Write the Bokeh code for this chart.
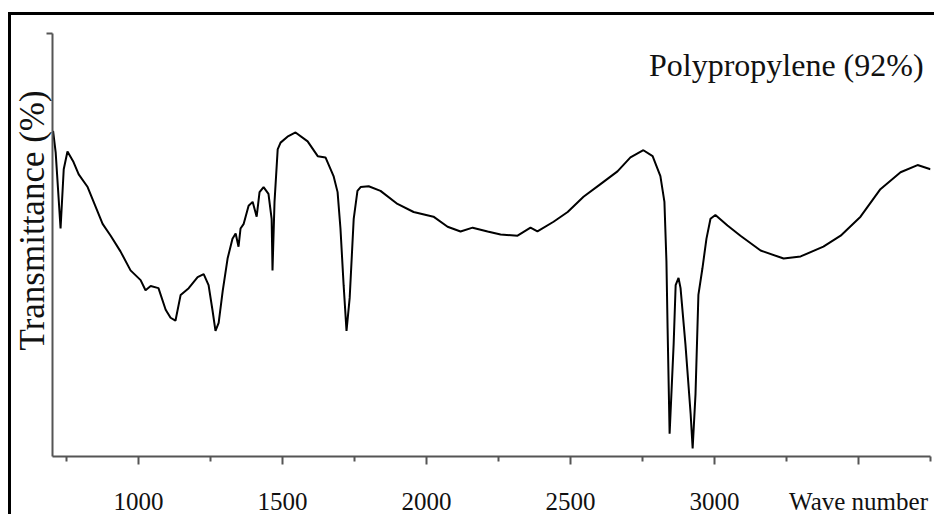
from bokeh.plotting import figure
from bokeh.models import Range1d, FixedTicker, Label, Title
from bokeh.embed import file_html
from bokeh.resources import INLINE

# FTIR spectrum
wavenumber = [703, 712, 729, 740, 753, 774, 792, 823, 875, 903, 937, 972, 1007, 1024,
              1042, 1069, 1094, 1111, 1128, 1146, 1174, 1205, 1226, 1243, 1257, 1267,
              1278, 1292, 1309, 1326, 1337, 1347, 1354, 1365, 1382, 1396, 1410, 1420,
              1434, 1451, 1462, 1465, 1472, 1483, 1493, 1517, 1545, 1587, 1622, 1649,
              1677, 1691, 1701, 1712, 1722, 1733, 1747, 1760, 1771, 1799, 1840, 1899,
              1955, 2024, 2073, 2118, 2160, 2212, 2257, 2316, 2361, 2385, 2441, 2490,
              2545, 2604, 2663, 2708, 2753, 2785, 2812, 2826, 2833, 2837, 2844, 2858,
              2865, 2875, 2882, 2899, 2917, 2924, 2934, 2944, 2958, 2972, 2986, 3003,
              3045, 3090, 3160, 3240, 3299, 3378, 3438, 3507, 3576, 3646, 3705, 3750]
transmittance = [77.0, 71.9, 53.9, 67.9, 72.1, 69.6, 66.7, 63.7, 55.0, 52.2, 48.5, 44.0,
                 41.7, 39.3, 40.3, 39.8, 34.7, 32.8, 32.1, 38.2, 39.8, 42.4, 43.1, 40.5,
                 34.4, 29.7, 31.6, 39.1, 46.8, 51.5, 52.7, 49.6, 53.9, 55.0, 59.3, 60.2,
                 56.7, 62.5, 63.7, 62.1, 56.2, 44.0, 60.2, 72.6, 74.2, 75.6, 76.6, 74.5,
                 71.0, 70.7, 66.3, 62.5, 53.9, 40.5, 29.7, 37.5, 56.2, 62.8, 63.7, 63.9,
                 62.8, 59.7, 57.8, 56.7, 54.3, 53.2, 54.1, 53.2, 52.5, 52.2, 54.1, 53.2,
                 55.5, 57.8, 61.4, 64.4, 67.4, 70.7, 72.4, 71.0, 66.3, 60.2, 46.1, 30.4,
                 5.4, 26.5, 40.5, 42.2, 39.8, 26.5, 10.1, 1.9, 14.8, 38.2, 44.5, 51.5,
                 56.2, 57.1, 54.6, 52.2, 48.7, 46.8, 47.3, 49.6, 52.2, 56.7, 63.2, 67.2,
                 68.9, 67.9]

x_ticks = [1000, 1500, 2000, 2500, 3000, 3500]
x_minor_ticks = [750, 1250, 1750, 2250, 2750, 3250, 3750]
x_tick_labels = {3500: "Wave number"}
y_ticks = [100]
title_text = "Polypropylene (92%)"
y_label = "Transmittance (%)"

FONT = "Liberation Serif"
AXIS_COLOR = "#555555"
TEXT_COLOR = "#111111"

p = figure(width=926, height=502, output_backend="svg", toolbar_location=None,
           x_range=Range1d(701, 3750), y_range=Range1d(0, 100),
           min_border_left=41, min_border_right=7, min_border_top=18, min_border_bottom=57)
p.title.visible = False
p.styles = {"border-left": "3px solid black", "border-top": "3px solid black",
            "margin-left": "8px", "margin-top": "12px"}
p.background_fill_color = "white"
p.border_fill_color = "white"
p.outline_line_color = None
p.grid.visible = False

p.line(wavenumber, transmittance, line_color="black", line_width=2)

xa = p.xaxis[0]
xa.ticker = FixedTicker(ticks=x_ticks, minor_ticks=x_minor_ticks)
xa.major_label_overrides = x_tick_labels
xa.axis_line_color = AXIS_COLOR
xa.axis_line_width = 2
xa.major_tick_line_color = AXIS_COLOR
xa.major_tick_line_width = 2
xa.major_tick_in = 0
xa.major_tick_out = 8
xa.minor_tick_line_color = AXIS_COLOR
xa.minor_tick_line_width = 2
xa.minor_tick_in = 0
xa.minor_tick_out = 5
xa.major_label_text_font = FONT
xa.major_label_text_font_size = "25px"
xa.major_label_text_color = TEXT_COLOR
xa.major_label_standoff = 23

ya = p.yaxis[0]
ya.ticker = FixedTicker(ticks=y_ticks, minor_ticks=[])
ya.major_label_text_font_size = "1px"
ya.major_label_text_color = None
ya.major_label_standoff = 0
ya.axis_line_color = AXIS_COLOR
ya.axis_line_width = 2
ya.major_tick_line_color = AXIS_COLOR
ya.major_tick_line_width = 2
ya.major_tick_in = 0
ya.major_tick_out = 6

# vertical axis title in the left side panel
p.add_layout(Title(text=y_label, align="left", vertical_align="top", offset=106,
                   standoff=-14, text_font=FONT, text_font_size="35px",
                   text_font_style="normal", text_color=TEXT_COLOR), "left")

p.add_layout(Label(x=3726, y=92.6, text=title_text, text_align="right",
                   text_baseline="alphabetic", text_font=FONT,
                   text_font_size="32px", text_color=TEXT_COLOR))

open("out.html", "w").write(file_html(p, INLINE))
